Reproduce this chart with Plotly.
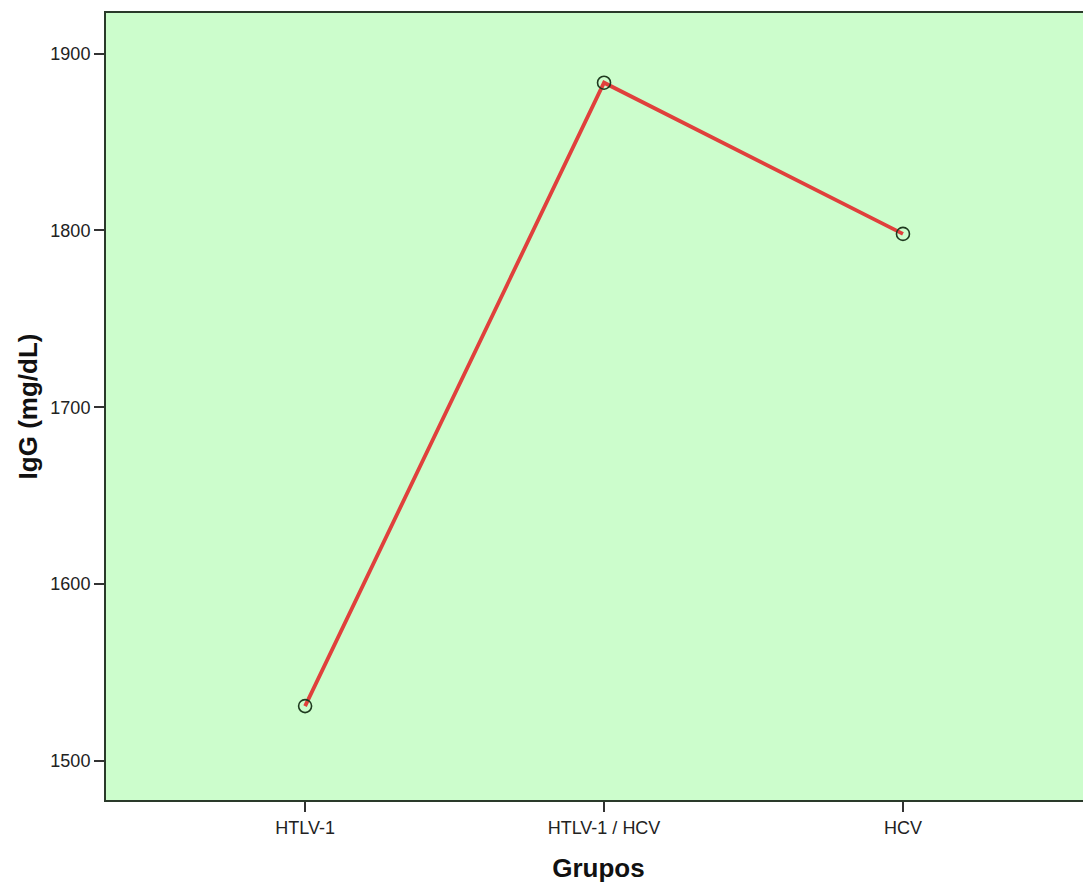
import plotly.graph_objects as go

categories = ["HTLV-1", "HTLV-1 / HCV", "HCV"]
igg_means = [1531, 1883.5, 1798]
y_ticks = [1500, 1600, 1700, 1800, 1900]

fig = go.Figure()
fig.add_trace(go.Scatter(
    x=list(range(len(categories))), y=igg_means, mode="lines+markers",
    line=dict(color="#e0403c", width=3.8),
    marker=dict(symbol="circle-open", size=13, color="#1f3a1f", line=dict(width=1.6, color="#1f3a1f")),
    showlegend=False,
))

fig.update_layout(
    width=1083, height=875,
    margin=dict(l=98, r=0, t=5, b=83),
    paper_bgcolor="white", plot_bgcolor="#ccfdcc",
    font=dict(family="Liberation Sans, Arial, sans-serif", color="#222222"),
)
fig.update_xaxes(
    range=[-0.666, 2.629], tickvals=list(range(len(categories))), ticktext=categories,
    showgrid=False, zeroline=False, showline=True, linecolor="#2a3a2a", linewidth=2,
    mirror=True, ticks="outside", ticklen=10, tickwidth=2, tickcolor="#333333",
    tickfont=dict(size=18, color="#222222"),
    title=dict(text="<b>Grupos</b>", font=dict(size=26, color="#111111"), standoff=22),
)
fig.update_yaxes(
    range=[1477.9, 1922.9], tickvals=y_ticks,
    showgrid=False, zeroline=False, showline=True, linecolor="#2a3a2a", linewidth=2,
    ticks="outside", ticklen=10, tickwidth=2, tickcolor="#333333",
    tickfont=dict(size=18, color="#222222"),
    title=dict(text="<b>IgG (mg/dL)</b>", font=dict(size=26, color="#111111"), standoff=5),
)

fig.write_html("out.html")
